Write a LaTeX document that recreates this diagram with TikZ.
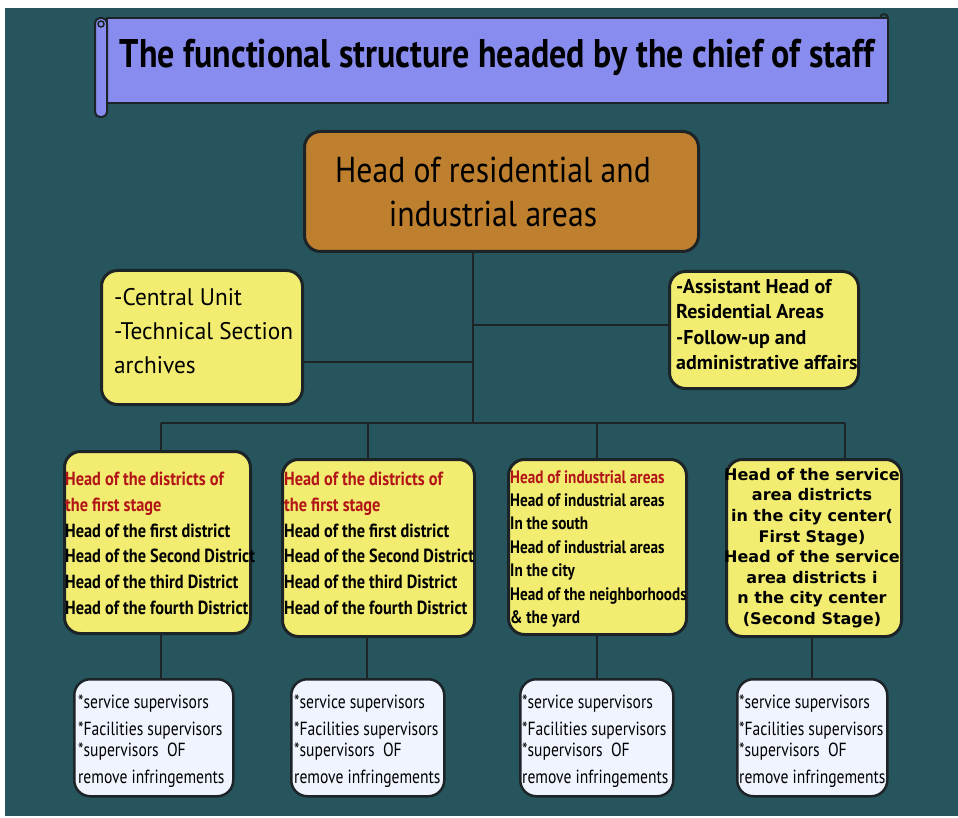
\documentclass[tikz,border=0pt]{standalone}
\usepackage{fontspec}
\setmainfont{PT Sans}
\newfontfamily\ftitle[FakeStretch=0.85]{PT Sans}
\newfontfamily\fhead[FakeStretch=0.88]{PT Sans}
\newfontfamily\fleft[FakeStretch=0.97]{PT Sans}
\newfontfamily\fright[FakeStretch=1.0]{PT Sans}
\newfontfamily\fdist[FakeStretch=0.86]{PT Sans}
\newfontfamily\find[FakeStretch=0.845]{PT Sans}
\newfontfamily\fsup[FakeStretch=0.82]{PT Sans}
\newfontfamily\fwide{DejaVu Sans}
\definecolor{bgteal}{RGB}{38,85,94}
\definecolor{ink}{RGB}{28,36,40}
\definecolor{scroll}{RGB}{136,140,238}
\definecolor{headfill}{RGB}{190,128,46}
\definecolor{boxyellow}{RGB}{242,237,112}
\definecolor{boxwhite}{RGB}{240,244,255}
\definecolor{redtext}{RGB}{178,20,24}
\tikzset{
  card/.style={draw=ink, line width=3pt, rounded corners=16pt, inner sep=0pt},
  ycard/.style={card, fill=boxyellow},
  wcard/.style={card, fill=boxwhite, line width=2.5pt},
  link/.style={draw=ink, line width=2.5pt},
  txt/.style={inner sep=0pt, text=black},
}
\begin{document}
\begin{tikzpicture}[x=1pt, y=-1pt]
  % canvas and backdrop
  \useasboundingbox (0,0) rectangle (958,818);
  \fill[white] (0,0) rectangle (958,818);
  \fill[bgteal] (5,8) rectangle (958,816);

  % title scroll
  \draw[draw=ink, line width=2pt, fill=scroll] (107,18) rectangle (888,103);
  \draw[draw=ink, line width=2pt, fill=scroll, rounded corners=5pt] (95,18) rectangle (107,117);
  \draw[draw=ink, line width=1.5pt] (101,24) circle (3pt);
  \draw[draw=ink, line width=1.8pt] (880,18) arc (180:0:4pt) -- (888,18);
  \node[txt, anchor=base, font=\ftitle\bfseries\fontsize{40}{44}\selectfont] (title) at (497,68)
    {The functional structure headed by the chief of staff};

  % top level
  \node[card, fill=headfill, minimum width=394pt, minimum height=120pt, anchor=north west] (h) at (303,130) {};
  \node[txt, anchor=north, align=center, font=\fhead\fontsize{36}{44}\selectfont] (ht) at (493,157)
    {Head of residential and\\industrial areas};

  % staff units
  \node[ycard, minimum width=201pt, minimum height=134pt, anchor=north west] (cu) at (100,269) {};
  \node[txt, anchor=north west, align=left, font=\fleft\fontsize{24}{34}\selectfont] (cut) at (114,288)
    {-Central Unit\\-Technical Section\\archives};
  \node[ycard, minimum width=189pt, minimum height=117pt, anchor=north west] (ah) at (668,270) {};
  \node[txt, anchor=north west, align=left, font=\fright\bfseries\fontsize{20}{25.5}\selectfont] (aht) at (676,279)
    {-Assistant Head of\\Residential Areas\\-Follow-up and\\administrative affairs};

  % district heads
  \node[ycard, minimum width=186pt, minimum height=182pt, anchor=north west] (d1) at (63,450) {};
  \node[ycard, minimum width=192pt, minimum height=177pt, anchor=north west] (d2) at (281,458) {};
  \node[ycard, minimum width=178pt, minimum height=175pt, anchor=north west] (d3) at (507,458) {};
  \node[ycard, minimum width=175pt, minimum height=177pt, anchor=north west] (d4) at (725,458) {};

  \node[txt, anchor=north west, align=left, font=\fdist\bfseries\fontsize{19}{25.7}\selectfont] (d1t) at (65,472)
    {\textcolor{redtext}{Head of the districts of}\\\textcolor{redtext}{the first stage}\\Head of the first district\\Head of the Second District\\Head of the third District\\Head of the fourth District};
  \node[txt, anchor=north west, align=left, font=\fdist\bfseries\fontsize{19}{25.7}\selectfont] (d2t) at (284,472)
    {\textcolor{redtext}{Head of the districts of}\\\textcolor{redtext}{the first stage}\\Head of the first district\\Head of the Second District\\Head of the third District\\Head of the fourth District};
  \node[txt, anchor=north west, align=left, font=\find\bfseries\fontsize{18}{23.4}\selectfont] (d3t) at (510,470)
    {\textcolor{redtext}{Head of industrial areas}\\Head of industrial areas\\In the south\\Head of industrial areas\\In the city\\Head of the neighborhoods\\\& the yard};
  \node[txt, anchor=north, align=center, font=\fwide\bfseries\fontsize{16}{20.6}\selectfont] (d4t) at (812,468)
    {Head of the service\\area districts\\in the city center(\\First Stage)\\Head of the service\\area districts i\\n the city center\\(Second Stage)};

  % supervisor boxes
  \node[wcard, minimum width=159pt, minimum height=117pt, anchor=north west] (s1) at (73,678) {};
  \node[wcard, minimum width=153pt, minimum height=117pt, anchor=north west] (s2) at (290,678) {};
  \node[wcard, minimum width=153pt, minimum height=117pt, anchor=north west] (s3) at (519,678) {};
  \node[wcard, minimum width=150pt, minimum height=117pt, anchor=north west] (s4) at (736,678) {};
  \foreach \s/\x in {s1/78, s2/294, s3/522, s4/739}{
    \node[txt, anchor=north west, align=left, font=\fsup\fontsize{19}{27}\selectfont] (\s t) at (\x,695)
      {*service supervisors\\*Facilities supervisors\\[-6pt]*supervisors\ \ OF\\remove infringements};
  }

  % connectors
  \coordinate (trunk) at (473,423);
  \coordinate (busL) at (161,423);
  \coordinate (busR) at (845,423);
  \coordinate (drop2) at (368,423);
  \coordinate (drop3) at (597,423);
  \coordinate (lefttee) at (473,362);
  \coordinate (righttee) at (473,325);
  \path[link] (trunk |- h.south) -- (trunk);
  \path[link] (cu.east |- lefttee) -- (lefttee);
  \path[link] (righttee) -- (ah.west |- righttee);
  \path[link] (busL) -- (busR);
  \path[link] (busL) -- (busL |- d1.north);
  \path[link] (drop2) -- (drop2 |- d2.north);
  \path[link] (drop3) -- (drop3 |- d3.north);
  \path[link] (busR) -- (busR |- d4.north);
  \coordinate (low1) at (161,640);
  \coordinate (low2) at (367,640);
  \coordinate (low3) at (597,640);
  \coordinate (low4) at (812,640);
  \path[link] (low1 |- d1.south) -- (low1 |- s1.north);
  \path[link] (low2 |- d2.south) -- (low2 |- s2.north);
  \path[link] (low3 |- d3.south) -- (low3 |- s3.north);
  \path[link] (low4 |- d4.south) -- (low4 |- s4.north);
\end{tikzpicture}
\end{document}
